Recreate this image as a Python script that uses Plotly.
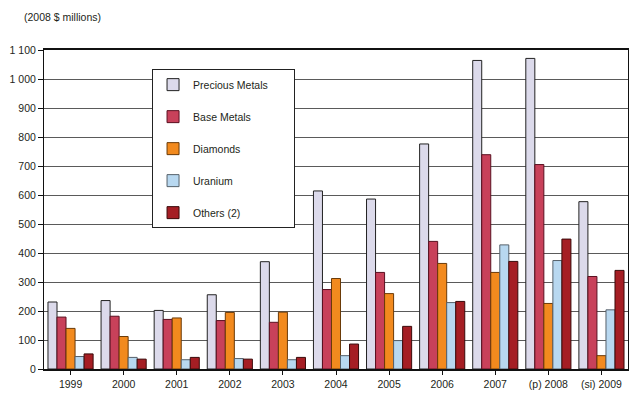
import plotly.graph_objects as go

years = ["1999", "2000", "2001", "2002", "2003", "2004", "2005", "2006", "2007", "(p) 2008", "(si) 2009"]
precious_metals = [231, 236, 202, 256, 370, 614, 586, 776, 1064, 1071, 577]
base_metals = [179, 182, 171, 167, 161, 274, 333, 440, 739, 705, 319]
diamonds = [140, 112, 176, 195, 196, 312, 260, 364, 333, 226, 46]
uranium = [43, 40, 32, 36, 32, 46, 98, 229, 428, 374, 204]
others = [52, 34, 40, 34, 40, 86, 147, 233, 371, 448, 340]

series_names = ["Precious Metals", "Base Metals", "Diamonds", "Uranium", "Others (2)"]
series_values = [precious_metals, base_metals, diamonds, uranium, others]
fill_colors = ["#DCDAEB", "#C8415A", "#F28A1E", "#B8D8F0", "#A51E24"]
line_colors = ["#222222", "#5A1020", "#6A3A08", "#55606A", "#3A0A0A"]

y_tickvals = [0, 100, 200, 300, 400, 500, 600, 700, 800, 900, 1000, 1100]
y_ticktext = ["0", "100", "200", "300", "400", "500", "600", "700", "800", "900", "1 000", "1 100"]

fig = go.Figure()
for i, (name, vals) in enumerate(zip(series_names, series_values)):
    label = name + ("\u00a0" * 7 if i == 0 else "")
    fig.add_trace(go.Bar(
        x=years, y=vals, name=label, legendgroup=f"g{i}",
        marker=dict(color=fill_colors[i], line=dict(color=line_colors[i], width=1)),
    ))

font_family = "Liberation Sans, Arial, sans-serif"
fig.update_layout(
    width=631, height=393,
    margin=dict(l=44, r=3, t=50, b=24),
    paper_bgcolor="white", plot_bgcolor="white",
    barmode="group", bargap=0.15, bargroupgap=0,
    font=dict(family=font_family, size=10.5, color="#231F20"),
    showlegend=True,
    legend=dict(
        x=0.185, y=0.94, xanchor="left", yanchor="top",
        bgcolor="white", bordercolor="#222222", borderwidth=1,
        font=dict(size=10.5, color="#231F20"),
        tracegroupgap=13, itemwidth=30,
    ),
    xaxis=dict(
        type="category", showline=True, linecolor="#111111", linewidth=1.8,
        mirror=True, ticks="outside", ticklen=4, tickcolor="#111111",
        showgrid=False, tickfont=dict(size=10.5),
    ),
    yaxis=dict(
        range=[0, 1100], tickvals=y_tickvals, ticktext=y_ticktext,
        showline=True, linecolor="#111111", linewidth=1, mirror=True,
        ticks="outside", ticklen=5, tickcolor="#111111",
        showgrid=True, gridcolor="#5A5A5A", gridwidth=1, zeroline=False,
        tickfont=dict(size=10.5),
    ),
    annotations=[dict(
        text="(2008 $ millions)", xref="paper", yref="paper",
        x=-0.0377, y=1.103, xanchor="left", yanchor="middle", showarrow=False,
        font=dict(size=10.5, color="#231F20"),
    )],
)

fig.write_html("out.html")
